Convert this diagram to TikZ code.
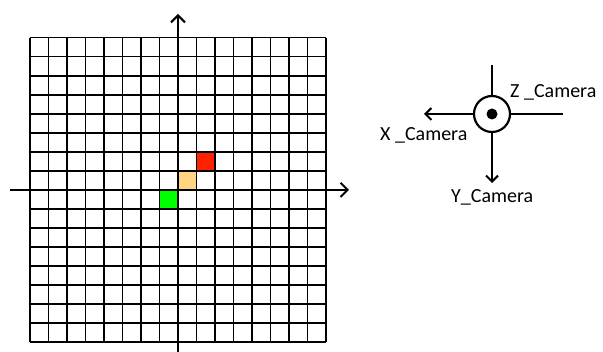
\documentclass[tikz,border=0pt]{standalone}
\usepackage{fontspec}
\setmainfont{Carlito}
\usetikzlibrary{arrows.meta}
\definecolor{cellred}{HTML}{FF2200}
\definecolor{cellorange}{HTML}{FFD580}
\definecolor{cellgreen}{HTML}{00FF00}
\tikzset{
  gridline/.style={line width=1.5pt, black},
  axisline/.style={line width=2.6pt, black, -{Straight Barb[length=7pt,width=14pt,line width=2pt]}},
  camline/.style={line width=2.2pt, black},
  camarrow/.style={line width=2.2pt, black, -{Straight Barb[length=6pt,width=12pt,line width=2pt]}},
  lab/.style={font=\fontsize{20}{24}\selectfont, inner sep=0pt}
}
\begin{document}
\begin{tikzpicture}[x=1pt,y=-1pt]
\useasboundingbox (0,0) rectangle (603,352);
% coloured cells
\fill[cellred] (196.5,151.9) rectangle (215,170.9);
\fill[cellorange] (178,170.9) rectangle (196.5,189.9);
\fill[cellgreen] (159.5,189.9) rectangle (178,208.9);
% grid
\foreach \j in {0,...,16} {
  \draw[gridline] (30,37.7+19.03*\j) -- (326,37.7+19.03*\j);
}
\foreach \i in {0,...,16} {
  \draw[gridline] (30+18.5*\i,37.7) -- (30+18.5*\i,342.2);
}
% axes
\coordinate (vb) at (178,352);
\coordinate (vt) at (178,14);
\coordinate (hl) at (10,189.9);
\coordinate (hr) at (349,189.9);
\draw[axisline] (vb) -- (vt);
\draw[axisline] (hl) -- (hr);
% camera frame
\node[circle, draw, line width=2.2pt, minimum size=36pt, inner sep=0pt] (cam) at (492,114) {};
\fill (cam.center) circle (5.5pt);
\coordinate (ztop) at (492,65);
\coordinate (zright) at (563,114);
\coordinate (xend) at (424,114);
\coordinate (yend) at (492,183);
\draw[camline] (cam.north) -- (ztop);
\draw[camline] (cam.east) -- (zright);
\draw[camarrow] (cam.west) -- (xend);
\draw[camarrow] (cam.south) -- (yend);
\node[lab, anchor=west] (zl) at (510,92) {Z \_Camera};
\node[lab, anchor=west] (xl) at (380,135) {X \_Camera};
\node[lab, anchor=west] (yl) at (451,197) {Y\_Camera};
\end{tikzpicture}
\end{document}
